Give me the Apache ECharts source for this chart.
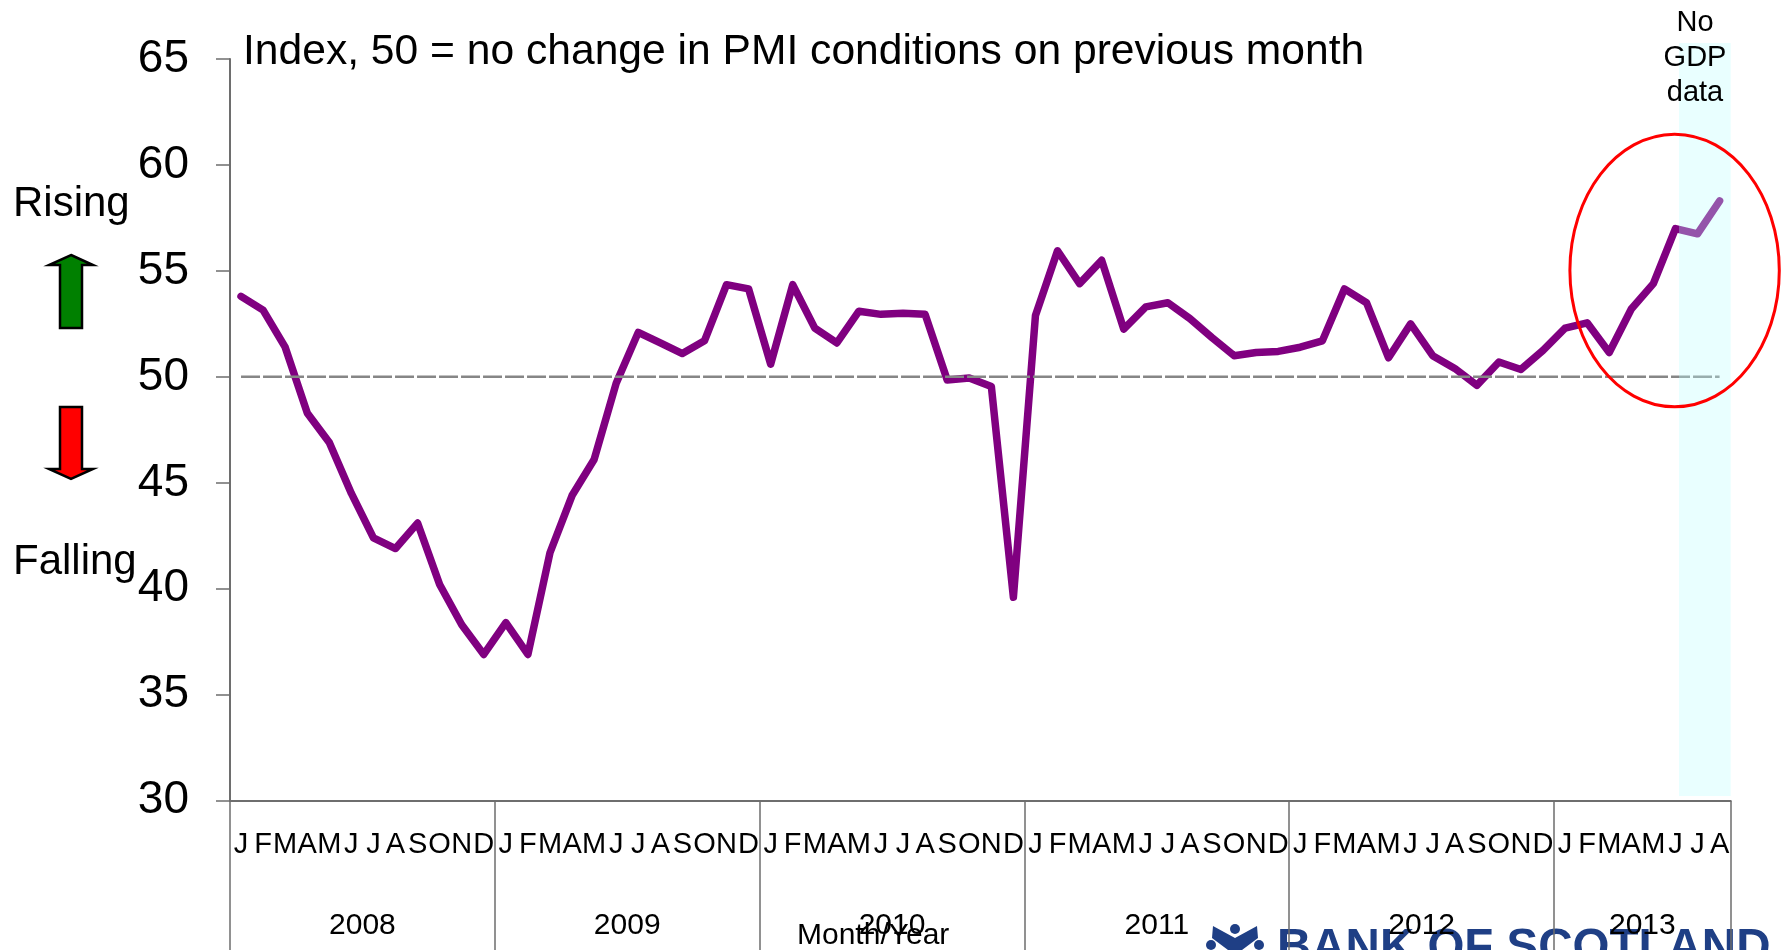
<!DOCTYPE html>
<html><head><meta charset="utf-8">
<style>html,body{margin:0;padding:0;background:#fff;overflow:hidden}#c{width:1791px;height:950px}</style>
<script src="https://cdn.jsdelivr.net/npm/echarts@6/dist/echarts.min.js"></script>
</head><body><div id="c"></div>
<script>
const months = ['J','F','M','A','M','J','J','A','S','O','N','D','J','F','M','A','M','J','J','A','S','O','N','D','J','F','M','A','M','J','J','A','S','O','N','D','J','F','M','A','M','J','J','A','S','O','N','D','J','F','M','A','M','J','J','A','S','O','N','D','J','F','M','A','M','J','J','A'];
const keys = months.map((m,i)=>i+'_'+m);
const years = ['2008','2009','2010','2011','2012','2013'];
const yearCentres = [6,18,30,42,54,64];
const yearBoundaries = [0,12,24,36,48,60,68];
const pmi = [53.8,53.15,51.4,48.3,46.9,44.5,42.4,41.9,43.1,40.2,38.3,36.9,
 38.4,36.9,41.7,44.4,46.1,49.7,52.1,51.6,51.1,51.7,54.35,54.15,
 50.6,54.35,52.3,51.6,53.1,52.95,53.0,52.95,49.85,49.95,49.55,39.6,
 52.9,55.95,54.4,55.5,52.25,53.3,53.5,52.75,51.85,51.0,51.15,51.2,
 51.4,51.7,54.15,53.5,50.9,52.5,51.0,50.4,49.6,50.7,50.35,51.25,
 52.3,52.55,51.15,53.2,54.4,57.0,56.75,58.3];
const noChange = months.map(()=>50);
const FONT = '"Liberation Sans", Arial, sans-serif';
const BLUE = '#1f3f85';
const txt = (x,baseline,text,size,extra,z)=>({type:'text',z:z===undefined?50:z,style:Object.assign({x,y:baseline-0.255*size,text,font:size+'px '+FONT,fill:'#000',verticalAlign:'middle'},extra||{})});
const arrow = (pts,fill)=>({type:'polygon',z:50,shape:{points:pts},style:{fill,stroke:'#000',lineWidth:2.5}});
const chart = echarts.init(document.getElementById('c'),null,{renderer:'canvas'});
chart.setOption({
 animation:false,
 backgroundColor:'#fff',
 grid:{left:230,top:59,width:1500.6,height:741.7,containLabel:false},
 xAxis:[
  {type:'category',data:keys,boundaryGap:true,position:'bottom',
   axisLine:{show:false},axisTick:{show:false},
   axisLabel:{interval:0,hideOverlap:false,formatter:v=>v.split('_')[1],color:'#000',fontFamily:FONT,fontSize:29,margin:30}},
  {type:'value',min:0,max:68,position:'bottom',splitLine:{show:false},
   axisLine:{show:true,onZero:false,lineStyle:{color:'#6e6e6e',width:2}},
   axisTick:{show:true,customValues:yearBoundaries,length:150,lineStyle:{color:'#6e6e6e',width:1.5}},
   axisLabel:{customValues:yearCentres,formatter:v=>years[yearCentres.indexOf(v)],color:'#000',fontFamily:FONT,fontSize:30,margin:110,showMinLabel:true,showMaxLabel:true}}
 ],
 yAxis:{type:'value',min:30,max:65,interval:5,splitLine:{show:false},
  axisLine:{show:true,lineStyle:{color:'#6e6e6e',width:2}},
  axisTick:{show:true,length:14,lineStyle:{color:'#6e6e6e',width:1.5}},
  axisLabel:{color:'#000',fontFamily:FONT,fontSize:46,margin:41,padding:[14,0,0,0]}},
 series:[
  {type:'line',name:'PMI',data:pmi,xAxisIndex:0,symbol:'none',z:3,clip:false,
   lineStyle:{color:'#800080',width:7.5,cap:'round',join:'round'}},
  {type:'line',name:'No change',data:noChange,xAxisIndex:0,symbol:'none',z:4,
   lineStyle:{color:'#868686',width:2.5,type:[19,3]}}
 ],
 graphic:[
  {type:'rect',z:40,shape:{x:1679,y:43,width:51.7,height:753},style:{fill:'rgba(188,255,255,0.33)'}},
  {type:'ellipse',z:45,shape:{cx:1674.6,cy:270.5,rx:104.7,ry:136.3},style:{fill:'none',stroke:'#ff0000',lineWidth:3}},
  txt(1277,961,'BANK OF SCOTLAND',47.5,{font:'bold 47.5px '+FONT,fill:BLUE},-1),
  {type:'circle',z:-1,shape:{cx:1235,cy:929,r:5},style:{fill:BLUE}},
  {type:'circle',z:-1,shape:{cx:1211,cy:945,r:5},style:{fill:BLUE}},
  {type:'circle',z:-1,shape:{cx:1259,cy:945,r:5},style:{fill:BLUE}},
  {type:'polygon',z:-1,shape:{points:[[1213,926],[1235,938],[1257,926],[1258,938],[1242,950],[1228,950],[1212,938]]},style:{fill:BLUE}},
  txt(243,63,'Index, 50 = no change in PMI conditions on previous month',42.6),
  txt(13,215,'Rising',42),
  txt(13,573,'Falling',42),
  txt(1695,30,'No',29,{align:'center'}),
  txt(1695,65,'GDP',29,{align:'center'}),
  txt(1695,100,'data',29,{align:'center'}),
  txt(797,943,'Month/Year',30),
  arrow([[71,255],[93,265],[82,265],[82,328],[60,328],[60,265],[49,265]],'#008000'),
  arrow([[60,407],[82,407],[82,469],[93,469],[71,479],[49,469],[60,469]],'#ff0000')
 ]
});
</script></body></html>
